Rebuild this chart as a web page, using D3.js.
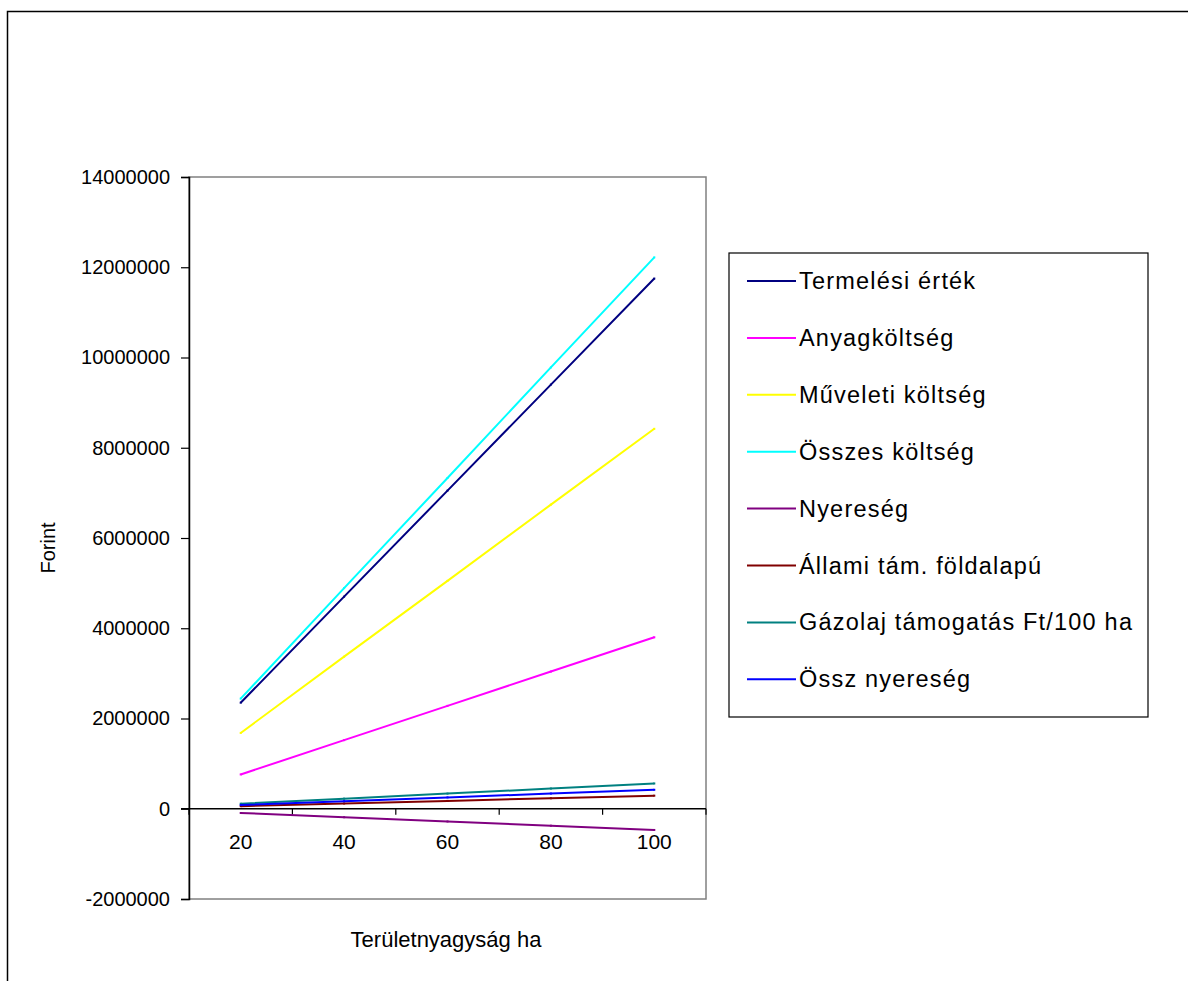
<!DOCTYPE html>
<html><head><meta charset="utf-8">
<script src="https://cdn.jsdelivr.net/npm/d3@7"></script>
<style>body{margin:0;background:#fff;} text{font-family:"Liberation Sans",Arial,sans-serif;fill:#000;}</style>
</head><body>
<svg id="c" width="1188" height="981"></svg>
<script>
const categories = [20, 40, 60, 80, 100];
const seriesNames = ["Termelési érték","Anyagköltség","Műveleti költség","Összes költség","Nyereség","Állami tám. földalapú","Gázolaj támogatás Ft/100 ha","Össz nyereség"];
const seriesColors = ["#000080","#FF00FF","#FFFF00","#00FFFF","#800080","#800000","#008080","#0000FF"];
const termelesi = [2350000, 4700000, 7050000, 9400000, 11750000];
const anyag = [760000, 1520000, 2280000, 3040000, 3800000];
const muveleti = [1680000, 3370000, 5050000, 6740000, 8420000];
const osszes = [2440000, 4890000, 7330000, 9780000, 12220000];
const nyereseg = [-94000, -188000, -282000, -376000, -470000];
const allami = [58000, 116000, 174000, 232000, 290000];
const gazolaj = [112000, 224000, 336000, 448000, 560000];
const osszNyereseg = [84000, 168000, 252000, 336000, 420000];
const yTicks = [-2000000, 0, 2000000, 4000000, 6000000, 8000000, 10000000, 12000000, 14000000];
const seriesValues = [termelesi, anyag, muveleti, osszes, nyereseg, allami, gazolaj, osszNyereseg];

const svg = d3.select("#c");
// outer chart border
svg.append("rect").attr("x",7.5).attr("y",11.5).attr("width",1300).attr("height",1100)
  .attr("fill","none").attr("stroke","#000").attr("stroke-width",1.5);

const L=189, R=706, T=177, B=899;
const x = d3.scaleBand().domain(categories).range([L,R]);
const y = d3.scaleLinear().domain([-2000000,14000000]).range([B,T]);

// plot area border (gray)
svg.append("rect").attr("x",L).attr("y",T).attr("width",R-L).attr("height",B-T)
  .attr("fill","none").attr("stroke","#808080").attr("stroke-width",1.5);

// y axis
const ya = svg.append("g").attr("transform",`translate(${L},0)`)
  .call(d3.axisLeft(y).tickValues(yTicks).tickFormat(d => String(d)).tickSize(8).tickPadding(11));
ya.select(".domain").attr("stroke","#000").attr("stroke-width",1.5);
ya.selectAll(".tick line").attr("stroke","#000").attr("stroke-width",1.2);
ya.selectAll("text").style("font-size","20px").style("font-family","'Liberation Sans',Arial,sans-serif");

// x axis at zero
const y0 = y(0);
svg.append("line").attr("x1",L-8).attr("x2",R).attr("y1",y0).attr("y2",y0).attr("stroke","#000").attr("stroke-width",1.5);
const bounds = categories.map(c=>x(c)).concat([R]);
svg.selectAll(".xt").data(bounds).enter().append("line")
  .attr("x1",d=>d).attr("x2",d=>d).attr("y1",y0).attr("y2",y0+6).attr("stroke","#000").attr("stroke-width",1.2);
svg.selectAll(".xl").data(categories).enter().append("text")
  .attr("x",d=>x(d)+x.bandwidth()/2).attr("y",y0+40).attr("text-anchor","middle")
  .style("font-size","21px").text(d=>d);

// lines
const line = d3.line().x((d,i)=>x(categories[i])+x.bandwidth()/2).y(d=>y(d));
seriesValues.forEach((vals,k)=>{
  svg.append("path").datum(vals).attr("d",line).attr("fill","none")
    .attr("stroke",seriesColors[k]).attr("stroke-width",2);
  svg.selectAll(null).data(vals).enter().append("rect")
    .attr("x",(d,i)=>x(categories[i])+x.bandwidth()/2-1).attr("y",d=>y(d)-1)
    .attr("width",2).attr("height",2).attr("fill",seriesColors[k]);
});

// axis titles
svg.append("text").attr("transform","translate(55,548) rotate(-90)").attr("text-anchor","middle")
  .style("font-size","20px").text("Forint");
svg.append("text").attr("x",446).attr("y",947).attr("text-anchor","middle")
  .style("font-size","22px").text("Területnyagyság ha");

// legend
const lg = svg.append("g");
lg.append("rect").attr("x",729).attr("y",253).attr("width",419).attr("height",464)
  .attr("fill","#fff").attr("stroke","#000").attr("stroke-width",1.2);
seriesNames.forEach((n,k)=>{
  const cy = 281 + k*56.9;
  lg.append("line").attr("x1",747).attr("x2",796).attr("y1",cy).attr("y2",cy)
    .attr("stroke",seriesColors[k]).attr("stroke-width",2);
  lg.append("text").attr("x",799).attr("y",cy+8).style("font-size","23.5px").style("letter-spacing","1.2px").text(n);
});
</script>
</body></html>
